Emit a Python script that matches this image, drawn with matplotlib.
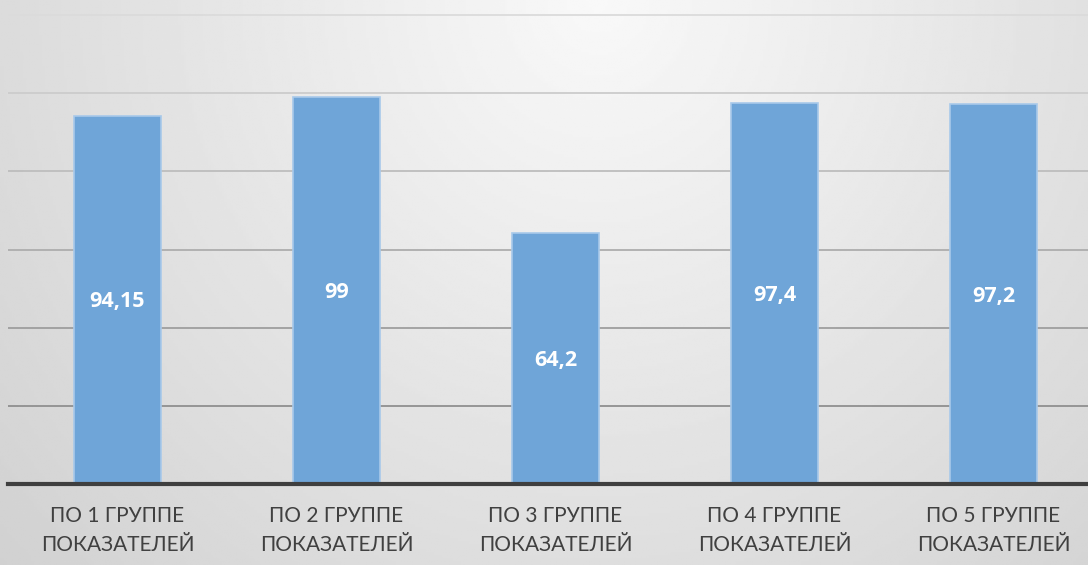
import numpy as np
import matplotlib.pyplot as plt

categories = ["ПО 1 ГРУППЕ\nПОКАЗАТЕЛЕЙ", "ПО 2 ГРУППЕ\nПОКАЗАТЕЛЕЙ",
              "ПО 3 ГРУППЕ\nПОКАЗАТЕЛЕЙ", "ПО 4 ГРУППЕ\nПОКАЗАТЕЛЕЙ",
              "ПО 5 ГРУППЕ\nПОКАЗАТЕЛЕЙ"]
values = [94.15, 99, 64.2, 97.4, 97.2]
labels = ["94,15", "99", "64,2", "97,4", "97,2"]
grid_levels = [20, 40, 60, 80, 100, 120]

W, H = 1088, 565
fig = plt.figure(figsize=(W / 100, H / 100), dpi=100)

# fond dégradé (clair en haut au centre, plus sombre sur les bords)
bg = fig.add_axes([0, 0, 1, 1], zorder=0)
xx, yy = np.meshgrid(np.linspace(0, 1, 400), np.linspace(0, 1, 200))
d = np.sqrt(((xx - 0.55) * 1.1) ** 2 + (yy * 0.55) ** 2)
shade = np.clip(0.975 - 0.19 * d, 0, 1)
bg.imshow(shade, cmap="gray", vmin=0, vmax=1, aspect="auto",
          extent=[0, 1, 0, 1], origin="upper")
bg.axis("off")

ax = fig.add_axes([8 / W, (H - 484) / H, 1095 / W, 484 / H], zorder=1)
ax.patch.set_alpha(0)
x = np.arange(len(values))
ax.set_xlim(-0.5, len(values) - 0.5)
ax.set_ylim(0, 123.84)

# lignes de grille : plus foncées vers le bas
for lvl in grid_levels:
    g = 0.50 + 0.36 * (lvl / 120)
    ax.axhline(lvl, color=str(g), lw=1.3, zorder=1)

bars = ax.bar(x, values, width=0.4, color="#6fa5d8", edgecolor="#a8c9ea",
              linewidth=1.2, zorder=2)
for b, lab in zip(bars, labels):
    ax.text(b.get_x() + b.get_width() / 2, b.get_height() / 2 - 0.5, lab,
            ha="center", va="center", color="white", fontsize=15.5,
            fontweight="bold", family="Open Sans", zorder=3)

ax.axhline(0, color="#3f3f3f", lw=3, zorder=4, clip_on=False)
ax.set_xticks(x)
ax.set_xticklabels(categories, fontsize=15, color="#404040", family="Lato",
                   linespacing=1.55)
ax.tick_params(axis="x", length=0, pad=16)
ax.set_yticks([])
for s in ax.spines.values():
    s.set_visible(False)

fig.savefig("out.png", dpi=100)
